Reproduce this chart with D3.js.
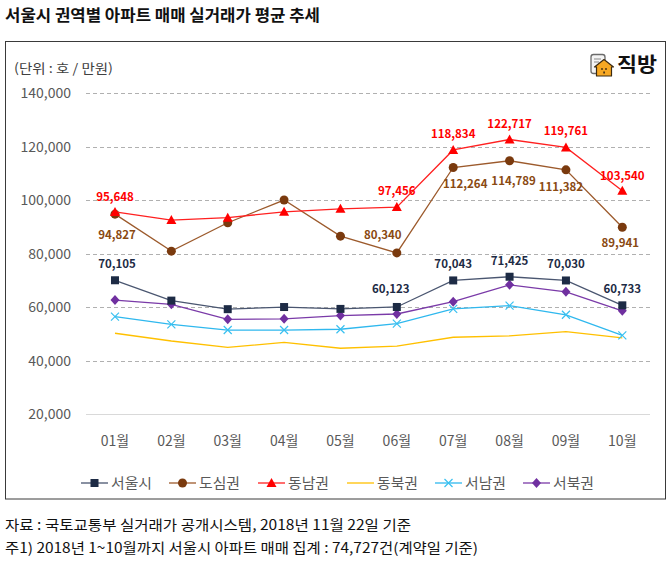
<!DOCTYPE html>
<html><head><meta charset="utf-8">
<script src="https://cdn.jsdelivr.net/npm/d3@7"></script>
<style>
html,body{margin:0;padding:0;background:#fff;}
svg{display:block;}
text{font-family:"Noto Sans CJK KR","Noto Sans",sans-serif;}
</style></head>
<body><svg id="c" width="670" height="563"></svg>
<script>
// ---- data ----
const months = ["01월","02월","03월","04월","05월","06월","07월","08월","09월","10월"];
const seoul   = [70105, 62500, 59300, 60100, 59400, 60123, 70043, 71425, 70030, 60733];
const dosim   = [94827, 81000, 91600, 100100, 86600, 80340, 112264, 114789, 111382, 89941];
const dongnam = [95648, 92600, 93500, 95700, 96800, 97456, 118834, 122717, 119761, 103540];
const dongbuk = [50300, 47400, 45000, 46900, 44700, 45500, 48800, 49300, 50900, 48600];
const seonam  = [56500, 53600, 51500, 51500, 51800, 53900, 59400, 60600, 57200, 49500];
const seobuk  = [62700, 61100, 55500, 55700, 56900, 57500, 62100, 68400, 65800, 58700];
const seriesNames = ["서울시","도심권","동남권","동북권","서남권","서북권"];
const yTicks = [20000, 40000, 60000, 80000, 100000, 120000, 140000];
const seoulLabeled   = [0,5,6,7,8,9];
const dongnamLabeled = [0,5,6,7,8,9];
const dosimLabeled   = [0,5,6,7,8,9];

// ---- styling / layout ----
const styles = [
  {line:"#4a5670", mark:"#1d2b45", shape:"square", lab:"#1d2b45"},
  {line:"#9c5a2c", mark:"#7a3a0e", shape:"circle", lab:"#8a4a12"},
  {line:"#ff2020", mark:"#ff0000", shape:"triangle", lab:"#ff0000"},
  {line:"#ffc000", mark:null, shape:"none"},
  {line:"#2fb8ee", mark:"#38c0f0", shape:"cross"},
  {line:"#7a3aa8", mark:"#7030a0", shape:"diamond"}
];
// label centre offsets relative to point
const offSeoul   = [[2,-16],[-6,-18],[0,-16],[0,-16],[0,-16],[0,-16]];
const offDongnam = [[0,-15],[0,-16],[0,-16],[0,-16],[0,-16],[0,-15]];
const offDosim   = [[2,21],[-14,-18],[12,17],[4,20],[-5,17],[-2,16]];

const svg = d3.select("#c");
const x = d3.scaleBand().domain(months).range([86.8, 650.5]);
const y = d3.scaleLinear().domain([20000, 140000]).range([414.3, 93.3]);
const cx = m => x(m) + x.bandwidth()/2;

// title
svg.append("text").attr("x",5).attr("y",21).attr("font-size",16).attr("font-weight","bold")
  .attr("fill","#111").attr("textLength",315).attr("lengthAdjust","spacingAndGlyphs")
  .text("서울시 권역별 아파트 매매 실거래가 평균 추세");

// box
svg.append("rect").attr("x",5.5).attr("y",41.5).attr("width",660).attr("height",457.5)
  .attr("fill","none").attr("stroke","#3a3a3a").attr("stroke-width",1);

// unit
svg.append("text").attr("x",14).attr("y",73).attr("font-size",13).attr("fill","#404040")
  .attr("textLength",99).attr("lengthAdjust","spacingAndGlyphs").text("(단위 : 호 / 만원)");

// logo
const lg = svg.append("g");
lg.append("rect").attr("x",591).attr("y",54.5).attr("width",14).attr("height",19).attr("rx",2.5)
  .attr("fill","#f4f4f4").attr("stroke","#6b6b6b").attr("stroke-width",1.3);
lg.append("line").attr("x1",594).attr("x2",601).attr("y1",59).attr("y2",59).attr("stroke","#8a8a8a").attr("stroke-width",1);
lg.append("line").attr("x1",594).attr("x2",599).attr("y1",62).attr("y2",62).attr("stroke","#8a8a8a").attr("stroke-width",1);
lg.append("path").attr("d","M594.5,67 L604,59.5 L613.5,67 L611.5,67 L611.5,76 L596.5,76 L596.5,67 Z")
  .attr("fill","#f7a823").attr("stroke","#3b2a12").attr("stroke-width",1.2).attr("stroke-linejoin","round");
lg.append("circle").attr("cx",602).attr("cy",69).attr("r",0.9).attr("fill","#3b2a12");
lg.append("circle").attr("cx",606).attr("cy",69).attr("r",0.9).attr("fill","#3b2a12");
lg.append("rect").attr("x",603.3).attr("y",71.5).attr("width",1.6).attr("height",2).attr("fill","#3b2a12");
svg.append("text").attr("x",617).attr("y",72).attr("font-size",20).attr("font-weight","bold")
  .attr("fill","#111").attr("textLength",40).attr("lengthAdjust","spacingAndGlyphs").text("직방");

// grid
svg.append("g").selectAll("line").data(yTicks).join("line")
  .attr("x1",86).attr("x2",650).attr("y1",d=>Math.round(y(d))+0.5).attr("y2",d=>Math.round(y(d))+0.5)
  .attr("stroke",d=>d===20000?"#d9d9d9":"#b0b0b0")
  .attr("stroke-dasharray",d=>d===20000?null:"4,3").attr("stroke-width",1);

// y axis labels
const fmt = d3.format(",");
svg.append("g").selectAll("text").data(yTicks).join("text")
  .attr("x",71).attr("y",d=>y(d)+5).attr("text-anchor","end").attr("font-size",14)
  .attr("font-family","'Liberation Sans',Arial,sans-serif").attr("fill","#595959").text(d=>fmt(d));

// x axis labels
svg.append("g").selectAll("text").data(months).join("text")
  .attr("x",d=>cx(d)).attr("y",446).attr("text-anchor","middle").attr("font-size",14)
  .attr("fill","#595959").text(d=>d);

const allSeries = [seoul, dosim, dongnam, dongbuk, seonam, seobuk];
const line = d3.line().x((d,i)=>cx(months[i])).y(d=>y(d));

function marker(g, shape, color, px, py){
  if(shape==="square") g.append("rect").attr("x",px-4).attr("y",py-4).attr("width",8).attr("height",8).attr("fill",color);
  else if(shape==="circle") g.append("circle").attr("cx",px).attr("cy",py).attr("r",4.5).attr("fill",color);
  else if(shape==="triangle") g.append("path").attr("d",`M${px},${py-5} L${px+5},${py+4} L${px-5},${py+4} Z`).attr("fill",color);
  else if(shape==="diamond") g.append("path").attr("d",`M${px},${py-5} L${px+4.5},${py} L${px},${py+5} L${px-4.5},${py} Z`).attr("fill",color);
  else if(shape==="cross") g.append("path").attr("d",`M${px-4},${py-4} L${px+4},${py+4} M${px-4},${py+4} L${px+4},${py-4}`).attr("stroke",color).attr("stroke-width",1.2);
}

// draw order: back to front
[3,4,5,0,1,2].forEach(si=>{
  const s = allSeries[si], st = styles[si];
  const g = svg.append("g");
  g.append("path").attr("d",line(s)).attr("fill","none").attr("stroke",st.line).attr("stroke-width",1.3);
  if(st.shape!=="none") s.forEach((v,i)=>marker(g, st.shape, st.mark, cx(months[i]), y(v)));
});

// data labels
function labels(series, idx, offs, color){
  idx.forEach((i,k)=>{
    svg.append("text").attr("x",cx(months[i])+offs[k][0]).attr("y",y(series[i])+offs[k][1]+4)
      .attr("text-anchor","middle").attr("font-size",11.5).attr("font-weight","bold")
      .attr("fill",color).text(fmt(series[i]));
  });
}
labels(seoul, seoulLabeled, offSeoul, styles[0].lab);
labels(dongnam, dongnamLabeled, offDongnam, styles[2].lab);
labels(dosim, dosimLabeled, offDosim, styles[1].lab);

// legend
const legX = [81, 169, 258, 347, 435, 523];
seriesNames.forEach((n,i)=>{
  const st = styles[i], g = svg.append("g");
  const x0 = legX[i];
  g.append("line").attr("x1",x0).attr("x2",x0+27).attr("y1",483).attr("y2",483).attr("stroke",st.line).attr("stroke-width",1.3);
  if(st.shape!=="none") marker(g, st.shape, st.mark, x0+13.5, 483);
  g.append("text").attr("x",x0+30).attr("y",488).attr("font-size",14).attr("fill","#595959")
    .attr("textLength",41).attr("lengthAdjust","spacingAndGlyphs").text(n);
});

// footer
svg.append("text").attr("x",5).attr("y",530).attr("font-size",14).attr("fill","#111")
  .attr("textLength",406).attr("lengthAdjust","spacingAndGlyphs")
  .text("자료 : 국토교통부 실거래가 공개시스템, 2018년 11월 22일 기준");
svg.append("text").attr("x",5).attr("y",553).attr("font-size",14).attr("fill","#111")
  .attr("textLength",473).attr("lengthAdjust","spacingAndGlyphs")
  .text("주1) 2018년 1~10월까지 서울시 아파트 매매 집계 : 74,727건(계약일 기준)");
</script></body></html>
